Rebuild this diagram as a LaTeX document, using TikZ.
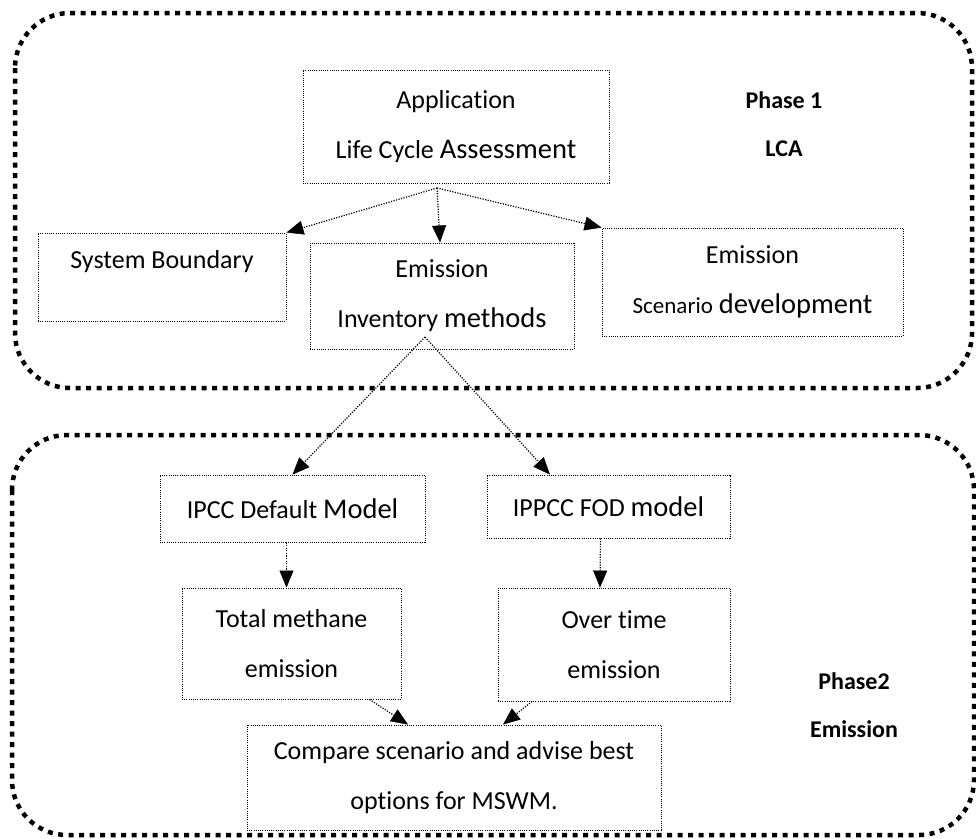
\documentclass[tikz,border=0pt]{standalone}
\usepackage{fontspec}
\setmainfont{Carlito}[Ligatures=NoCommon]
\usetikzlibrary{arrows.meta,calc}
\begin{document}
\begin{tikzpicture}[x=1pt,y=-1pt,
  box/.style={draw,line width=0.9pt,dash pattern=on 1pt off 1.2pt,inner sep=0pt,align=center,
    font=\fontsize{26}{50}\selectfont},
  outer/.style={draw,line width=4.5pt,dash pattern=on 5pt off 5.5pt,rounded corners=55pt},
  arr/.style={line width=1.2pt,dash pattern=on 1.2pt off 1.4pt,
    arrows={-{Triangle[length=17pt,width=14pt,line width=0.5pt,fill=black]}}},
  phase/.style={font=\fontsize{24}{48}\selectfont\bfseries,align=center}]
\useasboundingbox (0,0) rectangle (976,838);
% outer phase frames
\draw[outer] (15,13) rectangle (972,388);
\draw[outer] (12,435) rectangle (974,835);
% boxes
\node[box,minimum width=306pt,minimum height=113pt] (app) at (456,126.5)
  {Application\\Life Cycle {\fontsize{28.5}{50}\selectfont Assessment}};
\node[box,minimum width=248pt,minimum height=88pt] (sb) at (162,277) {};
\node[font=\fontsize{26}{30}\selectfont] (sbt) at (162,262) {System Boundary};
\node[box,minimum width=264pt,minimum height=106pt] (inv) at (442,296)
  {Emission\\Inventory {\fontsize{28.5}{50}\selectfont methods}};
\node[box,minimum width=301pt,minimum height=108pt] (sc) at (752.5,282)
  {Emission\\{\fontsize{23}{50}\selectfont Scenario} {\fontsize{28.5}{50}\selectfont development}};
\node[box,minimum width=265pt,minimum height=67pt] (ipcc) at (292.5,508.5)
  {IPCC Default {\fontsize{28.5}{50}\selectfont Model}};
\node[box,minimum width=243pt,minimum height=63pt] (fod) at (608.5,506.5)
  {IPPCC FOD {\fontsize{28.5}{50}\selectfont model}};
\node[box,minimum width=219pt,minimum height=111pt] (tm) at (291.5,643.5)
  {Total methane\\emission};
\node[box,minimum width=232pt,minimum height=113pt] (ot) at (614,644.5)
  {Over time\\emission};
\node[box,minimum width=414pt,minimum height=105pt] (cmp) at (454,777.5)
  {Compare scenario and advise best\\options for MSWM.};
% phase labels
\node[phase] (p1) at (784,124) {Phase 1\\LCA};
\node[phase] (p2) at (854,705) {Phase2\\Emission};
% connectors
\coordinate (a0) at (437,188);
\coordinate (i0) at (425,337);
\draw[arr] (a0) -- (sb.north east);
\draw[arr] (a0) -- ($(inv.north)+(-2,0)$);
\draw[arr] (a0) -- (sc.north west);
\draw[arr] (i0) -- (ipcc.north);
\draw[arr] (i0) -- ($(fod.north west)!0.26!(fod.north east)$);
\draw[arr] ($(ipcc.south)+(-6,0)$) -- ($(tm.north)+(-5,0)$);
\draw[arr] ($(fod.south)+(-8,0)$) -- ($(ot.north)+(-14,0)$);
\draw[arr] ($(tm.south)+(78,0)$) -- ($(cmp.north)+(-46,0)$);
\draw[arr] ($(ot.south)+(-82,0)$) -- ($(cmp.north)+(49,0)$);
\end{tikzpicture}
\end{document}
